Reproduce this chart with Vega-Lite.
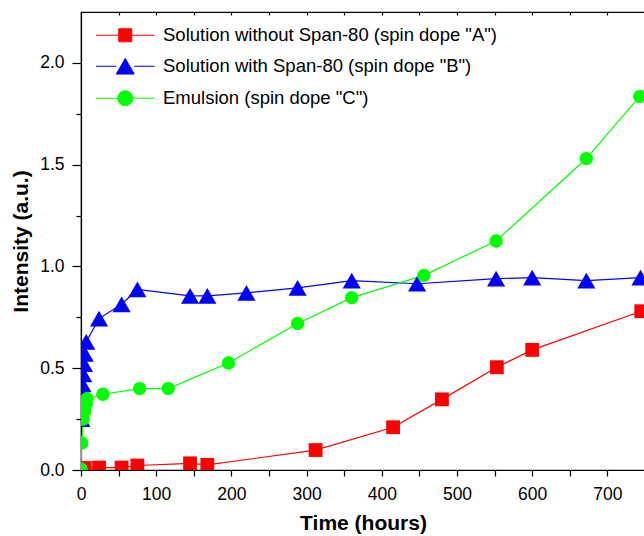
{
  "$schema": "https://vega.github.io/schema/vega-lite/v6.json",
  "autosize": "none",
  "padding": {"left": 81, "top": 12, "right": 0, "bottom": 66},
  "width": 564,
  "height": 458,
  "config": {
    "font": "Liberation Sans",
    "view": {"stroke": "#000000", "strokeWidth": 1.2},
    "axis": {
      "domainColor": "#000000", "domainWidth": 1.2,
      "tickColor": "#000000", "tickWidth": 1.2,
      "labelColor": "#000000", "labelFont": "Liberation Sans", "labelFontSize": 17.5,
      "titleColor": "#000000", "titleFont": "Liberation Sans", "titleFontSize": 21, "titleFontWeight": "bold",
      "grid": false, "labelFlush": false
    }
  },
  "data": {"values": [
    {"s": "A", "t": 0, "v": 0.005}, {"s": "A", "t": 5, "v": 0.01}, {"s": "A", "t": 24, "v": 0.012},
    {"s": "A", "t": 54, "v": 0.012}, {"s": "A", "t": 75, "v": 0.022}, {"s": "A", "t": 145, "v": 0.033},
    {"s": "A", "t": 168, "v": 0.025}, {"s": "A", "t": 312, "v": 0.098}, {"s": "A", "t": 415, "v": 0.21},
    {"s": "A", "t": 480, "v": 0.347}, {"s": "A", "t": 553, "v": 0.505}, {"s": "A", "t": 600, "v": 0.59},
    {"s": "A", "t": 745, "v": 0.78},
    {"s": "B", "t": 0.5, "v": 0.25}, {"s": "B", "t": 1, "v": 0.38}, {"s": "B", "t": 2, "v": 0.42},
    {"s": "B", "t": 3, "v": 0.47}, {"s": "B", "t": 4, "v": 0.52}, {"s": "B", "t": 5, "v": 0.57},
    {"s": "B", "t": 7, "v": 0.63}, {"s": "B", "t": 24, "v": 0.744}, {"s": "B", "t": 54, "v": 0.814},
    {"s": "B", "t": 75, "v": 0.887}, {"s": "B", "t": 145, "v": 0.855}, {"s": "B", "t": 168, "v": 0.855},
    {"s": "B", "t": 220, "v": 0.87}, {"s": "B", "t": 288, "v": 0.895}, {"s": "B", "t": 360, "v": 0.93},
    {"s": "B", "t": 447, "v": 0.915}, {"s": "B", "t": 552, "v": 0.94}, {"s": "B", "t": 600, "v": 0.945},
    {"s": "B", "t": 672, "v": 0.93}, {"s": "B", "t": 744, "v": 0.945},
    {"s": "C", "t": 0, "v": 0.005}, {"s": "C", "t": 1, "v": 0.133}, {"s": "C", "t": 3, "v": 0.25},
    {"s": "C", "t": 5, "v": 0.29}, {"s": "C", "t": 7, "v": 0.326}, {"s": "C", "t": 8, "v": 0.35},
    {"s": "C", "t": 29, "v": 0.372}, {"s": "C", "t": 78, "v": 0.4}, {"s": "C", "t": 116, "v": 0.4},
    {"s": "C", "t": 196, "v": 0.526}, {"s": "C", "t": 288, "v": 0.72}, {"s": "C", "t": 360, "v": 0.847},
    {"s": "C", "t": 456, "v": 0.956}, {"s": "C", "t": 552, "v": 1.125}, {"s": "C", "t": 672, "v": 1.53},
    {"s": "C", "t": 743, "v": 1.835}
  ]},
  "resolve": {"axis": {"x": "independent", "y": "independent"}},
  "layer": [
    {
      "mark": {"type": "line", "strokeWidth": 1.2, "clip": true},
      "encoding": {
        "x": {"field": "t", "type": "quantitative",
          "scale": {"domain": [0, 750], "nice": false, "zero": false},
          "axis": {"orient": "bottom", "title": "Time (hours)",
            "values": [0, 50, 100, 150, 200, 250, 300, 350, 400, 450, 500, 550, 600, 650, 700],
            "labelExpr": "datum.value % 100 === 0 ? datum.label : ''",
            "tickSize": 6, "labelPadding": 9, "titlePadding": 10, "labelOverlap": false}},
        "y": {"field": "v", "type": "quantitative",
          "scale": {"domain": [0, 2.25], "nice": false, "zero": false},
          "axis": {"orient": "left", "title": "Intensity (a.u.)",
            "values": [0, 0.5, 1, 1.5, 2], "format": ".1f",
            "tickSize": 9, "labelPadding": 8, "titlePadding": 8, "labelOverlap": false}},
        "color": {"field": "s", "type": "nominal",
          "scale": {"range": ["#ff0000", "#0000ff", "#00ff00"]},
          "legend": null}
      }
    },
    {
      "transform": [{"filter": "datum.s === 'A'"}],
      "mark": {"type": "point", "shape": "square", "size": 190, "filled": true, "opacity": 1, "clip": true},
      "encoding": {
        "x": {"field": "t", "type": "quantitative",
          "axis": {"orient": "top", "title": null, "labels": false, "domain": true,
            "values": [0, 50, 100, 150, 200, 250, 300, 350, 400, 450, 500, 550, 600, 650, 700, 750],
            "tickSize": -3}},
        "y": {"field": "v", "type": "quantitative",
          "axis": {"orient": "left", "title": null, "labels": false, "domain": false,
            "values": [0.25, 0.75, 1.25, 1.75], "tickSize": 5}},
        "color": {"field": "s", "type": "nominal", "legend": null}
      }
    },
    {
      "transform": [{"filter": "datum.s === 'B'"}],
      "mark": {"type": "point", "shape": "triangle-up", "size": 330, "filled": true, "opacity": 1, "clip": true},
      "encoding": {
        "x": {"field": "t", "type": "quantitative", "axis": null},
        "y": {"field": "v", "type": "quantitative", "axis": null},
        "color": {"field": "s", "type": "nominal", "legend": null}
      }
    },
    {
      "transform": [{"filter": "datum.s === 'C'"}],
      "mark": {"type": "point", "shape": "circle", "size": 177, "filled": true, "opacity": 1, "clip": true},
      "encoding": {
        "x": {"field": "t", "type": "quantitative", "axis": null},
        "y": {"field": "v", "type": "quantitative", "axis": null},
        "color": {"field": "s", "type": "nominal", "legend": null}
      }
    },
    {
      "transform": [{"filter": "false"}],
      "mark": {"type": "point", "filled": true, "opacity": 1},
      "encoding": {
        "x": {"field": "t", "type": "quantitative", "axis": null},
        "y": {"field": "v", "type": "quantitative", "axis": null},
        "fill": {"field": "s", "type": "nominal",
          "scale": {"domain": ["A", "B", "C"], "range": ["#ff0000", "#0000ff", "#00ff00"]},
          "legend": {
            "title": null, "orient": "none", "legendX": 15, "legendY": 14, "padding": 0,
            "labelFont": "Liberation Sans", "labelFontSize": 18.5, "labelColor": "#000000", "labelLimit": 0,
            "symbolSize": 169, "symbolOffset": 20, "labelOffset": 28.5, "rowPadding": 11,
            "symbolStrokeWidth": 1, "symbolOpacity": 1,
            "labelExpr": "datum.value === 'A' ? 'Solution without Span-80 (spin dope \"A\")' : datum.value === 'B' ? 'Solution with Span-80 (spin dope \"B\")' : 'Emulsion (spin dope \"C\")'"}},
        "stroke": {"field": "s", "type": "nominal",
          "scale": {"domain": ["A", "B", "C"], "range": ["#ff0000", "#0000ff", "#00ff00"]}},
        "shape": {"field": "s", "type": "nominal",
          "scale": {"domain": ["A", "B", "C"], "range": [
            "M-4.5,0H-1M1,0H4.5M-1,-1H1V1H-1Z",
            "M-4.5,0H-1.38M1.38,0H4.5M0,-1.2L1.38,1.2L-1.38,1.2Z",
            "M-4.5,0H-1.15M1.15,0H4.5M-1.15,0A1.15,1.15,0,1,1,1.15,0A1.15,1.15,0,1,1,-1.15,0Z"]}}
      }
    }
  ]
}
